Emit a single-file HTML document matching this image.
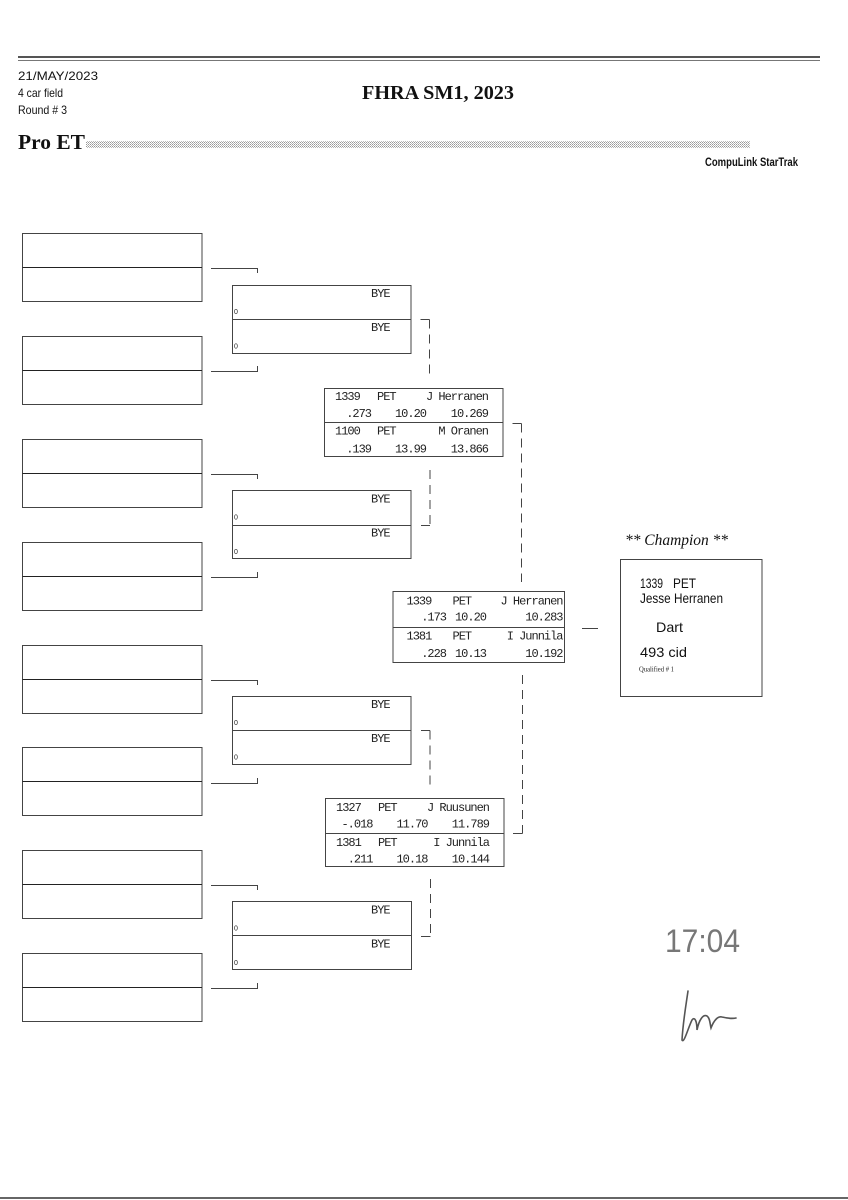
<!DOCTYPE html>
<html>
<head>
<meta charset="utf-8">
<style>
html,body{margin:0;padding:0;background:#fff;}
svg{display:block;}
.m{font-family:"Liberation Mono",monospace;font-size:12px;letter-spacing:-1px;fill:#222;}
.s{font-family:"Liberation Sans",sans-serif;fill:#111;}
.z{font-family:"Liberation Sans",sans-serif;font-size:7px;fill:#222;}
</style>
</head>
<body>
<svg width="848" height="1200" viewBox="0 0 848 1200" xmlns="http://www.w3.org/2000/svg">
<defs>
<pattern id="dots" width="2" height="2" patternUnits="userSpaceOnUse">
<rect width="2" height="2" fill="#fff"/>
<rect width="1" height="1" fill="#999"/>
<rect x="1" y="1" width="1" height="1" fill="#bbb"/>
</pattern>
</defs>

<!-- header rules -->
<rect x="18" y="56" width="802" height="2" fill="#555"/>
<rect x="18" y="60" width="802" height="1" fill="#777"/>

<text class="s" x="18" y="80" font-size="12" textLength="80" lengthAdjust="spacingAndGlyphs">21/MAY/2023</text>
<text class="s" x="18" y="97" font-size="12" textLength="45" lengthAdjust="spacingAndGlyphs">4 car field</text>
<text class="s" x="18" y="114" font-size="12" textLength="49" lengthAdjust="spacingAndGlyphs">Round # 3</text>

<text x="362" y="99" font-family="Liberation Serif,serif" font-weight="bold" font-size="20" fill="#111" textLength="152" lengthAdjust="spacingAndGlyphs">FHRA SM1, 2023</text>

<text x="18" y="149" font-family="Liberation Serif,serif" font-weight="bold" font-size="21" fill="#111" textLength="67" lengthAdjust="spacingAndGlyphs">Pro ET</text>
<rect x="86" y="141" width="664" height="7" fill="url(#dots)"/>

<text class="s" x="705" y="166" font-size="11.5" font-weight="bold" textLength="93" lengthAdjust="spacingAndGlyphs">CompuLink StarTrak</text>

<g fill="none" stroke="#444" stroke-width="1">
<!-- round 1 boxes -->
<rect x="22.5" y="233.5" width="179.5" height="68"/><line x1="22.5" y1="267.5" x2="202" y2="267.5" stroke="#222"/>
<rect x="22.5" y="336.5" width="179.5" height="68"/><line x1="22.5" y1="370.5" x2="202" y2="370.5" stroke="#222"/>
<rect x="22.5" y="439.5" width="179.5" height="68"/><line x1="22.5" y1="473.5" x2="202" y2="473.5" stroke="#222"/>
<rect x="22.5" y="542.5" width="179.5" height="68"/><line x1="22.5" y1="576.5" x2="202" y2="576.5" stroke="#222"/>
<rect x="22.5" y="645.5" width="179.5" height="68"/><line x1="22.5" y1="679.5" x2="202" y2="679.5" stroke="#222"/>
<rect x="22.5" y="747.5" width="179.5" height="68"/><line x1="22.5" y1="781.5" x2="202" y2="781.5" stroke="#222"/>
<rect x="22.5" y="850.5" width="179.5" height="68"/><line x1="22.5" y1="884.5" x2="202" y2="884.5" stroke="#222"/>
<rect x="22.5" y="953.5" width="179.5" height="68"/><line x1="22.5" y1="987.5" x2="202" y2="987.5" stroke="#222"/>

<!-- round 1 connectors -->
<path d="M211,268.5 H257.5 V273"/>
<path d="M211,371.5 H257.5 V366"/>
<path d="M211,474.5 H257.5 V479"/>
<path d="M211,577.5 H257.5 V572"/>
<path d="M211,680.5 H257.5 V685"/>
<path d="M211,783.5 H257.5 V778"/>
<path d="M211,885.5 H257.5 V890"/>
<path d="M211,988.5 H257.5 V983"/>

<!-- round 2 boxes -->
<rect x="232.5" y="285.5" width="178.5" height="68"/><line x1="232.5" y1="319.5" x2="411" y2="319.5"/>
<rect x="232.5" y="490.5" width="178.5" height="68"/><line x1="232.5" y1="525.5" x2="411" y2="525.5"/>
<rect x="232.5" y="696.5" width="178.5" height="68"/><line x1="232.5" y1="730.5" x2="411" y2="730.5"/>
<rect x="232.5" y="901.5" width="179" height="68"/><line x1="232.5" y1="935.5" x2="411.5" y2="935.5"/>

<!-- round 2 connectors -->
<path d="M420.5,319.5 H429.5"/>
<line x1="429.5" y1="319.5" x2="429.5" y2="377" stroke-dasharray="9,6"/>
<path d="M421,525.5 H430"/>
<line x1="430" y1="470" x2="430" y2="525.5" stroke-dasharray="9,6"/>
<path d="M421,730.5 H430"/>
<line x1="430" y1="730.5" x2="430" y2="788" stroke-dasharray="9,6"/>
<path d="M421,936.5 H430.5"/>
<line x1="430.5" y1="879" x2="430.5" y2="936.5" stroke-dasharray="9,6"/>

<!-- round 3 boxes -->
<rect x="324.5" y="388.5" width="178.5" height="68"/><line x1="324.5" y1="422.5" x2="503" y2="422.5"/>
<rect x="325.5" y="798.5" width="178.5" height="68"/><line x1="325.5" y1="833.5" x2="504" y2="833.5"/>

<!-- round 3 connectors -->
<path d="M512.5,423.5 H521.5"/>
<line x1="521.5" y1="423.5" x2="521.5" y2="582" stroke-dasharray="9,6"/>
<path d="M513,833.5 H522.5"/>
<line x1="522.5" y1="675" x2="522.5" y2="833.5" stroke-dasharray="9,6"/>

<!-- final box -->
<rect x="393" y="591.5" width="171.5" height="71"/><line x1="393" y1="627.5" x2="564.5" y2="627.5"/>
<path d="M582,628.5 H598"/>

<!-- champion box -->
<rect x="620.5" y="559.5" width="141.5" height="137"/>
</g>

<!-- BYE texts -->
<g class="m">
<text x="371" y="297">BYE</text><text x="371" y="331">BYE</text>
<text x="371" y="502.5">BYE</text><text x="371" y="536.5">BYE</text>
<text x="371" y="708">BYE</text><text x="371" y="742">BYE</text>
<text x="371" y="913.5">BYE</text><text x="371" y="947.5">BYE</text>
</g>
<g class="z">
<text x="234" y="314">0</text><text x="234" y="348.5">0</text>
<text x="234" y="519.5">0</text><text x="234" y="554">0</text>
<text x="234" y="725">0</text><text x="234" y="759.5">0</text>
<text x="234" y="930.5">0</text><text x="234" y="965">0</text>
</g>

<!-- round 3 box 1 -->
<g class="m">
<text x="335" y="400">1339</text>
<text x="377" y="400">PET</text>
<text x="488" y="400" text-anchor="end">J Herranen</text>
<text x="371" y="417" text-anchor="end">.273</text>
<text x="426" y="417" text-anchor="end">10.20</text>
<text x="488" y="417" text-anchor="end">10.269</text>
<text x="335" y="434.5">1100</text>
<text x="377" y="434.5">PET</text>
<text x="488" y="434.5" text-anchor="end">M Oranen</text>
<text x="371" y="452.5" text-anchor="end">.139</text>
<text x="426" y="452.5" text-anchor="end">13.99</text>
<text x="488" y="452.5" text-anchor="end">13.866</text>
</g>

<!-- round 3 box 2 -->
<g class="m">
<text x="336" y="811">1327</text>
<text x="378" y="811">PET</text>
<text x="489" y="811" text-anchor="end">J Ruusunen</text>
<text x="372.5" y="827.5" text-anchor="end">-.018</text>
<text x="427.5" y="827.5" text-anchor="end">11.70</text>
<text x="489" y="827.5" text-anchor="end">11.789</text>
<text x="336" y="846">1381</text>
<text x="378" y="846">PET</text>
<text x="489" y="846" text-anchor="end">I Junnila</text>
<text x="372.5" y="862.5" text-anchor="end">.211</text>
<text x="427.5" y="862.5" text-anchor="end">10.18</text>
<text x="489" y="862.5" text-anchor="end">10.144</text>
</g>

<!-- final box -->
<g class="m">
<text x="406.5" y="604.5">1339</text>
<text x="452.5" y="604.5">PET</text>
<text x="562.5" y="604.5" text-anchor="end">J Herranen</text>
<text x="446" y="620.5" text-anchor="end">.173</text>
<text x="486" y="620.5" text-anchor="end">10.20</text>
<text x="562.5" y="620.5" text-anchor="end">10.283</text>
<text x="406.5" y="639.5">1381</text>
<text x="452.5" y="639.5">PET</text>
<text x="562.5" y="639.5" text-anchor="end">I Junnila</text>
<text x="446" y="657" text-anchor="end">.228</text>
<text x="486" y="657" text-anchor="end">10.13</text>
<text x="562.5" y="657" text-anchor="end">10.192</text>
</g>

<!-- champion -->
<text x="625" y="545" font-family="Liberation Serif,serif" font-style="italic" font-size="16" fill="#111" textLength="103" lengthAdjust="spacingAndGlyphs">** Champion **</text>
<text class="s" x="640" y="588" font-size="14" textLength="23" lengthAdjust="spacingAndGlyphs">1339</text>
<text class="s" x="673" y="588" font-size="14" textLength="23" lengthAdjust="spacingAndGlyphs">PET</text>
<text class="s" x="640" y="603" font-size="14" textLength="83" lengthAdjust="spacingAndGlyphs">Jesse Herranen</text>
<text class="s" x="656" y="632" font-size="14" textLength="27" lengthAdjust="spacingAndGlyphs">Dart</text>
<text class="s" x="640" y="657" font-size="14" textLength="47" lengthAdjust="spacingAndGlyphs">493 cid</text>
<text x="639" y="671.5" font-family="Liberation Serif,serif" font-size="7" fill="#222" textLength="35" lengthAdjust="spacingAndGlyphs">Qualified # 1</text>

<!-- handwriting -->
<text x="665" y="952" font-family="Liberation Sans,sans-serif" font-size="32" fill="#777" textLength="75" lengthAdjust="spacingAndGlyphs">17:04</text>
<path d="M688,991 C686,1005 683,1022 682,1040 C684,1044 688,1028 692,1020 C695,1016 697,1022 697,1030 C699,1020 703,1014 707,1016 C710,1018 710,1024 711,1028 C714,1020 718,1016 722,1017 C727,1018 731,1019 736,1018" fill="none" stroke="#555" stroke-width="1.6" stroke-linecap="round"/>

<!-- bottom rule -->
<rect x="0" y="1197" width="848" height="2" fill="#666"/>
</svg>
</body>
</html>
